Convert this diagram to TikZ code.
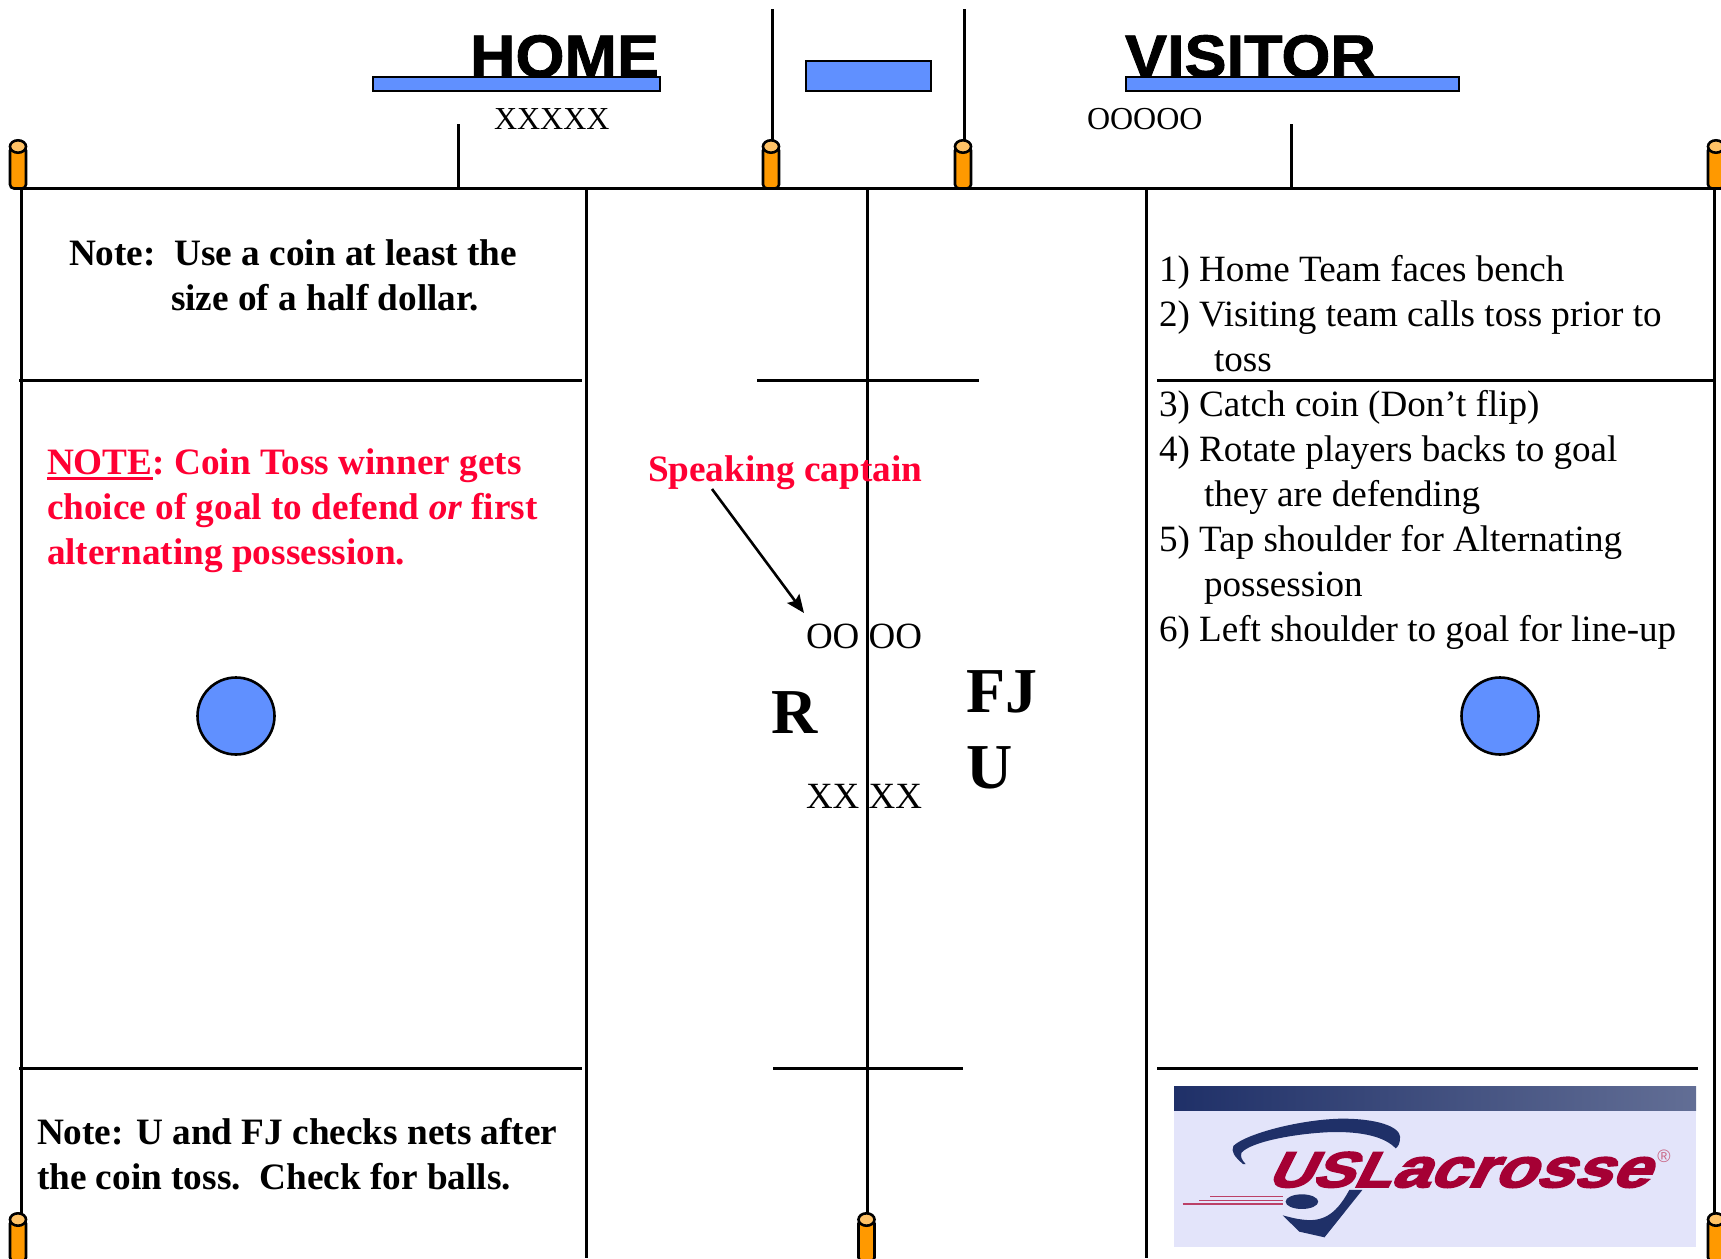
\documentclass[tikz,border=0pt]{standalone}
\usepackage{fontspec}
\setmainfont{Liberation Serif}
\newfontfamily\headf[BoldFeatures={FakeBold=1.5,FakeStretch=1.05}]{Liberation Sans}
\newfontfamily\logof[BoldFeatures={FakeBold=3.5,FakeStretch=1.24,FakeSlant=0.5}]{Liberation Sans}
\newfontfamily\arialf{Liberation Sans}
\usetikzlibrary{arrows.meta}
\definecolor{boxblue}{HTML}{6090FF}
\definecolor{conea}{HTML}{FF9900}
\definecolor{coneb}{HTML}{FFC266}
\definecolor{notered}{HTML}{FF0033}
\definecolor{logobg}{HTML}{E3E4FA}
\definecolor{logonavy}{HTML}{1F3068}
\definecolor{logored}{HTML}{A50034}
\newcommand{\fs}[1]{\fontsize{#1}{#1}\selectfont}
\tikzset{
  fieldline/.style={line width=3pt,black},
  bluebox/.style={draw=black,line width=2.8pt,fill=boxblue},
  txt/.style={inner sep=0pt,outer sep=0pt,anchor=base west,align=left},
  bodytxt/.style={txt,font=\fs{37.1}},
  boldtxt/.style={txt,font=\fs{37.25}\bfseries},
  redtxt/.style={boldtxt,text=notered},
  rosterx/.style={txt,font=\fs{32}},
  reflet/.style={txt,font=\fs{64}\bfseries},
  headtxt/.style={txt,font=\headf\fs{60}\bfseries},
}
\newcommand{\cone}[2]{%
  \draw[line width=2.6pt,fill=conea,rounded corners=4pt] (#1-8,#2+7) -- (#1-8,#2+49) -- (#1+8,#2+49) -- (#1+8,#2+7) -- cycle;
  \draw[line width=2.6pt,fill=coneb] (#1,#2+7) ellipse [x radius=8,y radius=6.2];}
\begin{document}
\begin{tikzpicture}[x=1pt,y=-1pt]
\useasboundingbox (0,0) rectangle (1721,1258);
% field lines
\draw[fieldline] (19,188) -- (1721,188);
\foreach \x in {21,586,867,1146,1714} \draw[fieldline] (\x,188) -- (\x,1258);
\draw[fieldline] (19,380) -- (582,380);
\draw[fieldline] (757,380) -- (979,380);
\draw[fieldline] (1157,380) -- (1714,380);
\draw[fieldline] (19,1068) -- (582,1068);
\draw[fieldline] (773,1068) -- (963,1068);
\draw[fieldline] (1157,1068) -- (1698,1068);
\draw[fieldline] (458,124) -- (458,188);
\draw[fieldline] (1291,124) -- (1291,188);
\draw[fieldline] (772,9) -- (772,145);
\draw[fieldline] (964,9) -- (964,145);
% cones
\cone{18}{139.5}\cone{771}{139.5}\cone{963}{139.5}\cone{1716}{139.5}
\cone{18}{1212.5}\cone{866.5}{1212.5}\cone{1716}{1212.5}
% header
\node[headtxt] (home) at (470,77) {HOME};
\node[headtxt] (visitor) at (1125,77) {VISITOR};
\draw[bluebox] (373,77) rectangle (660,91);
\draw[bluebox] (806,61) rectangle (931,91);
\draw[bluebox] (1126,77) rectangle (1459,91);
\node[rosterx] (xrow) at (494,129) {XXXXX};
\node[rosterx] (orow) at (1087,129) {OOOOO};
% left column
\node[boldtxt] (n1a) at (69,265) {Note:\ \ Use a coin at least the};
\node[boldtxt] (n1b) at (171,310) {size of a half dollar.};
\node[redtxt] (n2a) at (47,474) {NOTE: Coin Toss winner gets};
\draw[notered,line width=2.6pt] (47,478.5) -- (152.5,478.5);
\node[redtxt] (n2b) at (47,519) {choice of goal to defend \textit{or} first};
\node[redtxt] (n2c) at (47,564) {alternating possession.};
\node[boldtxt] (n3a) at (37,1144) {Note: U and FJ checks nets after};
\node[boldtxt] (n3b) at (37,1189) {the coin toss.\ \ Check for balls.};
% circles
\draw[bluebox,line width=2.6pt] (236,716) circle [radius=38.5];
\draw[bluebox,line width=2.6pt] (1500,716) circle [radius=38.5];
% centre
\node[redtxt] (speak) at (648,481) {Speaking captain};
\coordinate (arrowS) at (712,489);
\coordinate (arrowE) at (804,613);
\draw[line width=2.6pt,-{Stealth[length=18pt,width=15pt,inset=3pt]}] (arrowS) -- (arrowE);
\node[txt,font=\fs{37}] (oo) at (806,648) {OO OO};
\node[txt,font=\fs{37}] (xx) at (806,808) {XX XX};
\node[reflet] (r) at (771,733) {R};
\node[reflet] (fj) at (966,712) {FJ};
\node[reflet] (u) at (966,788) {U};
% right column
\node[bodytxt] (r1) at (1159,281) {1) Home Team faces bench};
\node[bodytxt] (r2) at (1159,326) {2) Visiting team calls toss prior to};
\node[bodytxt] (r3) at (1214,371) {toss};
\node[bodytxt] (r4) at (1159,416) {3) Catch coin (Don’t flip)};
\node[bodytxt] (r5) at (1159,461) {4) Rotate players backs to goal};
\node[bodytxt] (r6) at (1204,506) {they are defending};
\node[bodytxt] (r7) at (1159,551) {5) Tap shoulder for Alternating};
\node[bodytxt] (r8) at (1204,596) {possession};
\node[bodytxt] (r9) at (1159,641) {6) Left shoulder to goal for line-up};
% logo
\fill[logobg] (1174,1086) rectangle (1696,1247);
\shade[left color=logonavy,right color=logonavy!70!white] (1174,1086) rectangle (1696,1110);
\begin{scope}[shift={(1140,1040)},x=0.3705pt,y=-0.3333pt]
\fill[logonavy] (278,372) .. controls (255,350) and (245,335) .. (252,318)
  .. controls (280,285) and (420,240) .. (540,236)
  .. controls (640,235) and (700,260) .. (702,290)
  .. controls (702,310) and (697,320) .. (690,325)
  .. controls (660,290) and (600,275) .. (520,276)
  .. controls (420,280) and (300,305) .. (274,338)
  .. controls (270,350) and (275,360) .. (285,372) -- cycle;
\fill[logonavy] (600,450) -- (565,450) .. controls (540,500) and (510,545) .. (450,540)
  .. controls (425,538) and (405,532) .. (385,526)
  -- (430,575) -- (498,592) -- cycle;
\fill[logonavy] (437,485) ellipse [x radius=44,y radius=22];
\draw[logored!75!white,line width=1.6pt] (115,492) -- (385,492);
\draw[logored!75!white,line width=1.6pt] (160,481) -- (385,481);
\draw[logored!75!white,line width=1.6pt] (190,470) -- (385,470);
\end{scope}
\node[txt,text=logored,font=\logof\bfseries] (logo) at (1266,1187)
  {\fs{50}USL\fs{55}acrosse};
\node[inner sep=0pt,text=logored!60!white,font=\arialf\fs{18}] (reg) at (1664,1156) {®};
\end{tikzpicture}
\end{document}
